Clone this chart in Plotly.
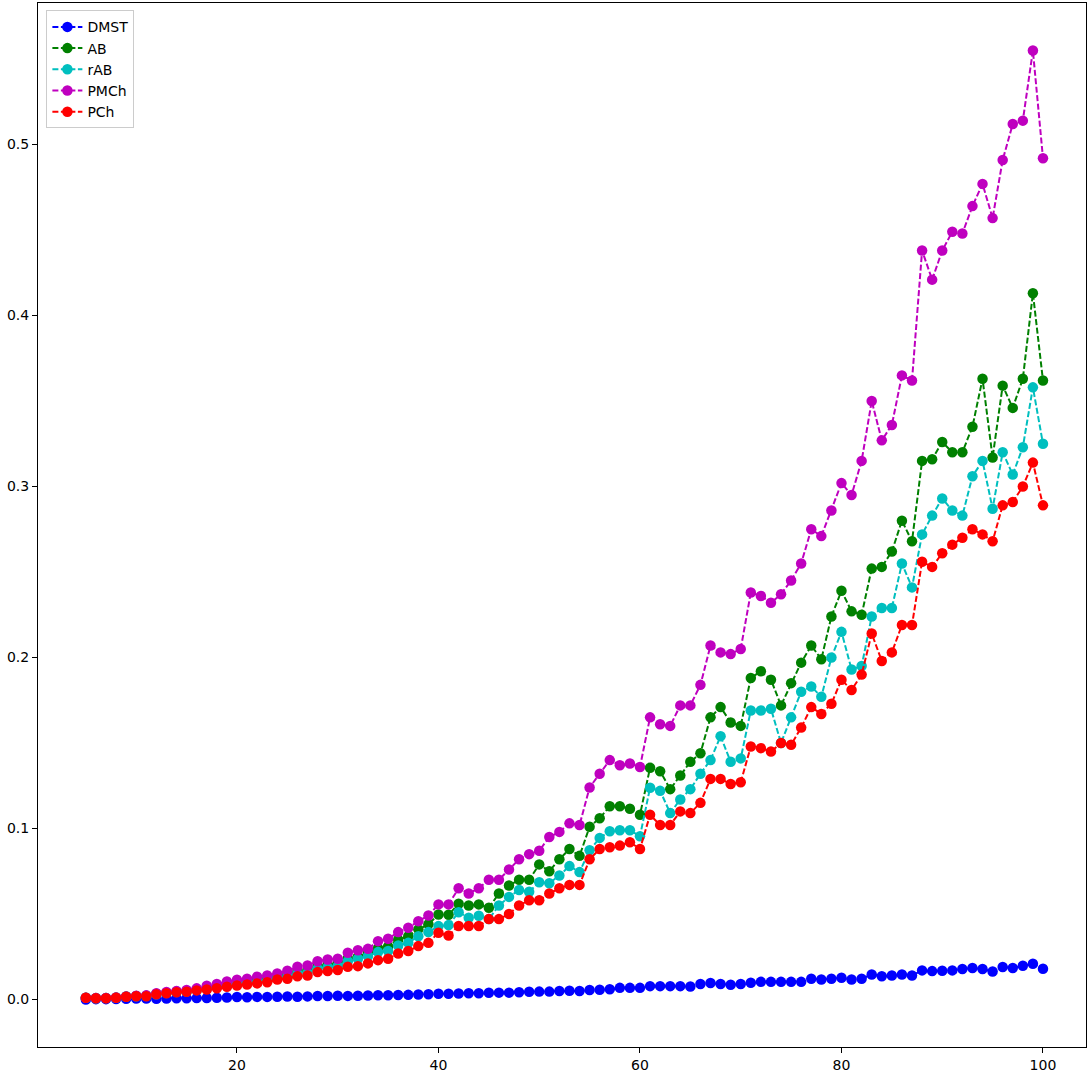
import plotly.graph_objects as go

x_values = list(range(5, 101))

dmst = [0.0000, 0.0002, 0.0002, 0.0003, 0.0004, 0.0005, 0.0005, 0.0004, 0.0006, 0.0007,
        0.0007, 0.0008, 0.0009, 0.0010, 0.0012, 0.0014, 0.0013, 0.0015, 0.0015, 0.0016,
        0.0017, 0.0016, 0.0018, 0.0020, 0.0020, 0.0022, 0.0021, 0.0022, 0.0023, 0.0025,
        0.0025, 0.0026, 0.0027, 0.0029, 0.0031, 0.0033, 0.0033, 0.0035, 0.0036, 0.0036,
        0.0039, 0.0040, 0.0040, 0.0042, 0.0045, 0.0046, 0.0046, 0.0050, 0.0051, 0.0050,
        0.0055, 0.0057, 0.0060, 0.0068, 0.0068, 0.0068, 0.0078, 0.0078, 0.0078, 0.0078,
        0.0076, 0.0090, 0.0096, 0.0090, 0.0086, 0.0090, 0.0098, 0.0103, 0.0103, 0.0103,
        0.0103, 0.0103, 0.0121, 0.0117, 0.0121, 0.0127, 0.0117, 0.0121, 0.0146, 0.0136,
        0.0140, 0.0146, 0.0140, 0.0170, 0.0166, 0.0168, 0.0170, 0.0178, 0.0184, 0.0178,
        0.0164, 0.0190, 0.0184, 0.0197, 0.0209, 0.0180]

ab = [0.0010, 0.0008, 0.0008, 0.0011, 0.0017, 0.0020, 0.0022, 0.0033, 0.0040, 0.0046,
      0.0050, 0.0059, 0.0069, 0.0078, 0.0090, 0.0100, 0.0106, 0.0115, 0.0122, 0.0136,
      0.0146, 0.0165, 0.0172, 0.0195, 0.0203, 0.0210, 0.0240, 0.0250, 0.0270, 0.0300,
      0.0310, 0.0350, 0.0370, 0.0410, 0.0440, 0.0497, 0.0495, 0.0560, 0.0550, 0.0556,
      0.0536, 0.0620, 0.0667, 0.0700, 0.0700, 0.0790, 0.0750, 0.0820, 0.0880, 0.0840,
      0.101, 0.106, 0.113, 0.113, 0.1115, 0.108, 0.1355, 0.1335, 0.123, 0.131,
      0.139, 0.144, 0.165, 0.171, 0.162, 0.160, 0.188, 0.192, 0.187, 0.172,
      0.185, 0.197, 0.207, 0.199, 0.224, 0.239, 0.227, 0.225, 0.252, 0.253,
      0.262, 0.280, 0.268, 0.315, 0.316, 0.326, 0.320, 0.320, 0.335, 0.363,
      0.317, 0.359, 0.346, 0.363, 0.413, 0.362]

rab = [0.0010, 0.0007, 0.0008, 0.0010, 0.0016, 0.0019, 0.0020, 0.0031, 0.0038, 0.0044,
       0.0047, 0.0056, 0.0063, 0.0072, 0.0082, 0.0091, 0.0097, 0.0104, 0.0111, 0.0127,
       0.0134, 0.0152, 0.0157, 0.0180, 0.0188, 0.0195, 0.0224, 0.0238, 0.0253, 0.0277,
       0.0283, 0.0316, 0.0331, 0.0370, 0.0394, 0.0429, 0.0435, 0.0510, 0.0478, 0.0490,
       0.0470, 0.0550, 0.0600, 0.0640, 0.0630, 0.0686, 0.0680, 0.0725, 0.0780, 0.0745,
       0.0873, 0.0945, 0.0984, 0.0990, 0.0990, 0.0955, 0.1238, 0.1220, 0.1090, 0.1170,
       0.123, 0.132, 0.140, 0.154, 0.139, 0.141, 0.169, 0.169, 0.170, 0.150,
       0.165, 0.180, 0.183, 0.177, 0.200, 0.215, 0.193, 0.195, 0.224, 0.229,
       0.229, 0.255, 0.241, 0.272, 0.283, 0.293, 0.286, 0.283, 0.306, 0.315,
       0.287, 0.320, 0.307, 0.323, 0.358, 0.325]

pmch = [0.0010, 0.0008, 0.0009, 0.0012, 0.0018, 0.0022, 0.0024, 0.0036, 0.0044, 0.0050,
        0.0055, 0.0065, 0.0080, 0.0090, 0.0105, 0.0115, 0.0121, 0.0133, 0.0140, 0.0152,
        0.0168, 0.0191, 0.0199, 0.0224, 0.0234, 0.0238, 0.0273, 0.0288, 0.0296, 0.0341,
        0.0355, 0.0394, 0.0419, 0.0458, 0.0491, 0.0556, 0.0556, 0.0650, 0.0620, 0.0650,
        0.070, 0.070, 0.076, 0.082, 0.085, 0.087, 0.095, 0.098, 0.103, 0.102,
        0.124, 0.132, 0.140, 0.137, 0.138, 0.136, 0.165, 0.161, 0.160, 0.172,
        0.172, 0.184, 0.207, 0.203, 0.202, 0.205, 0.238, 0.236, 0.232, 0.237,
        0.245, 0.255, 0.275, 0.271, 0.286, 0.302, 0.295, 0.315, 0.350, 0.327,
        0.336, 0.365, 0.362, 0.438, 0.421, 0.438, 0.449, 0.448, 0.464, 0.477,
        0.457, 0.491, 0.512, 0.514, 0.555, 0.492]

pch = [0.0010, 0.0007, 0.0007, 0.0010, 0.0016, 0.0019, 0.0019, 0.0030, 0.0036, 0.0042,
       0.0045, 0.0053, 0.0058, 0.0066, 0.0074, 0.0082, 0.0088, 0.0094, 0.0101, 0.0117,
       0.0121, 0.0136, 0.0140, 0.0160, 0.0166, 0.0172, 0.0191, 0.0195, 0.0211, 0.0230,
       0.0238, 0.0269, 0.0283, 0.0312, 0.0331, 0.0390, 0.0374, 0.0430, 0.0430, 0.0430,
       0.0470, 0.0470, 0.0500, 0.0550, 0.0580, 0.0580, 0.0620, 0.0650, 0.0670, 0.0670,
       0.082, 0.088, 0.089, 0.090, 0.092, 0.088, 0.108, 0.102, 0.102, 0.110,
       0.109, 0.115, 0.129, 0.129, 0.126, 0.127, 0.148, 0.147, 0.145, 0.150,
       0.149, 0.159, 0.171, 0.167, 0.173, 0.187, 0.181, 0.190, 0.214, 0.198,
       0.203, 0.219, 0.219, 0.256, 0.253, 0.261, 0.266, 0.270, 0.275, 0.272,
       0.268, 0.289, 0.291, 0.300, 0.314, 0.289]

series_names = ["DMST", "AB", "rAB", "PMCh", "PCh"]
series_values = [dmst, ab, rab, pmch, pch]
series_colors = ["#0000ff", "#008000", "#00bfbf", "#bf00bf", "#ff0000"]

x_tick_vals = [20, 40, 60, 80, 100]
y_tick_vals = [0.0, 0.1, 0.2, 0.3, 0.4, 0.5]

fig = go.Figure()
for name, vals, col in zip(series_names, series_values, series_colors):
    fig.add_trace(go.Scatter(
        x=x_values, y=vals, name=name, mode="lines+markers",
        line=dict(color=col, width=2, dash="6px,2.5px"),
        marker=dict(color=col, size=10.5, line=dict(width=0)),
    ))

axis_common = dict(
    showline=True, mirror=True, linecolor="#000000", linewidth=1,
    ticks="outside", ticklen=5, tickwidth=1, tickcolor="#000000",
    showgrid=False, zeroline=False,
    tickfont=dict(family="DejaVu Sans", size=14, color="#000000"),
)

fig.update_layout(
    width=1087, height=1076,
    margin=dict(l=38, r=1, t=3, b=29),
    plot_bgcolor="white", paper_bgcolor="white",
    font=dict(family="DejaVu Sans", size=14, color="#000000"),
    xaxis=dict(range=[0.25, 104.27], tickvals=x_tick_vals,
               ticktext=[str(v) for v in x_tick_vals], **axis_common),
    yaxis=dict(range=[-0.0278, 0.5828], tickvals=y_tick_vals,
               ticktext=[f"{v:.1f}" for v in y_tick_vals], **axis_common),
    legend=dict(x=0.008, y=0.993, xanchor="left", yanchor="top",
                bgcolor="rgba(255,255,255,0.8)", bordercolor="#cccccc", borderwidth=1,
                font=dict(family="DejaVu Sans", size=14, color="#000000")),
    showlegend=True,
)

fig.write_html("out.html",
               config={"displayModeBar": False},
               post_script="document.body.style.margin='0';document.body.style.overflow='hidden';")
